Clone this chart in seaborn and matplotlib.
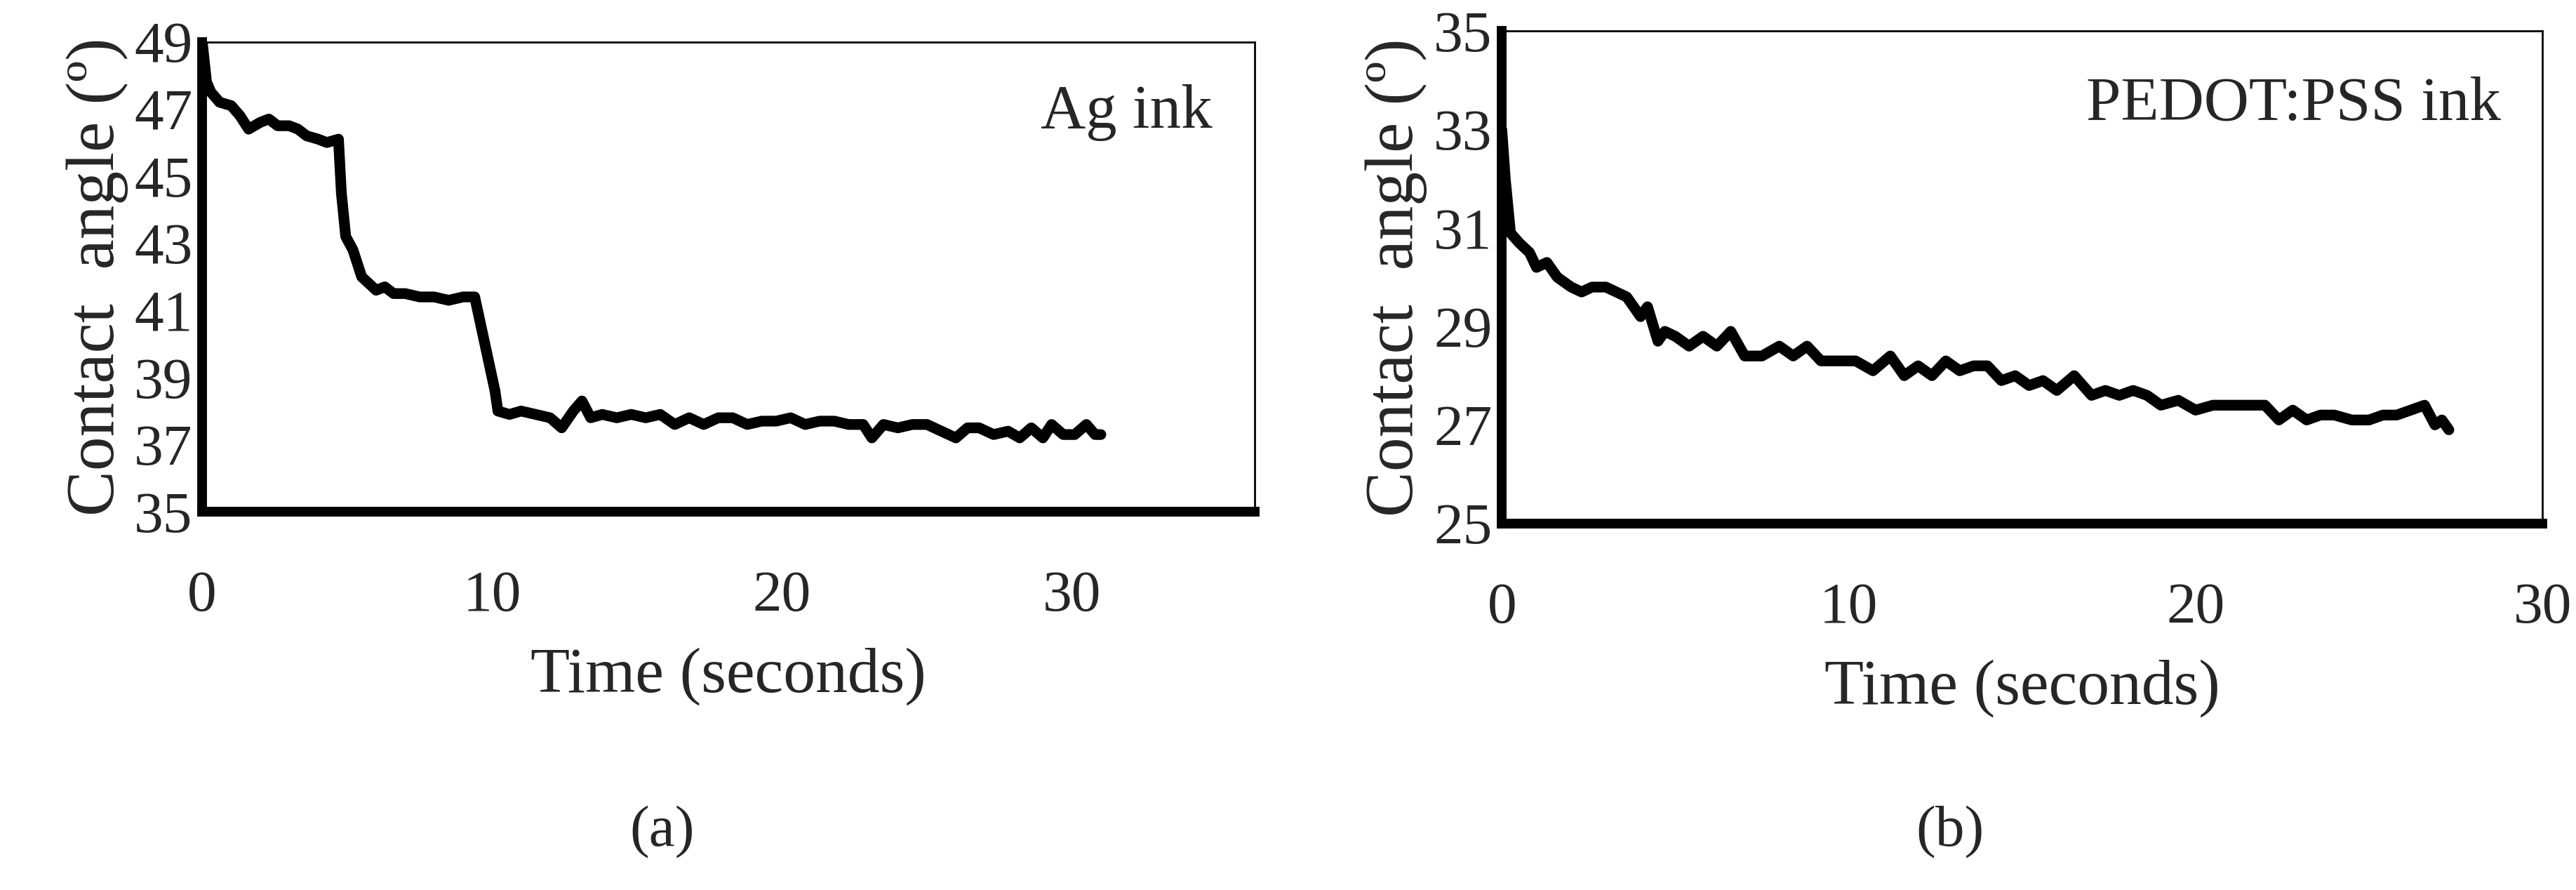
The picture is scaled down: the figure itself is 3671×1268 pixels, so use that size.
import matplotlib
matplotlib.use("Agg")
import matplotlib.pyplot as plt
import seaborn as sns
import pandas as pd

ag_time = [0.0, 0.15, 0.3, 0.6, 1.0, 1.3, 1.6, 2.0, 2.3, 2.6, 3.0, 3.3, 3.6, 4.0, 4.3, 4.7, 4.8, 4.95, 5.2, 5.5, 6.0, 6.3, 6.6, 7.0, 7.5, 8.0, 8.5, 9.0, 9.4, 9.6, 9.9, 10.1, 10.2, 10.6, 11.0, 11.5, 12.0, 12.4, 12.8, 13.1, 13.4, 13.8, 14.3, 14.8, 15.3, 15.8, 16.3, 16.8, 17.3, 17.8, 18.3, 18.8, 19.3, 19.8, 20.3, 20.8, 21.3, 21.8, 22.3, 22.8, 23.1, 23.5, 24.0, 24.5, 25.0, 25.5, 26.0, 26.4, 26.8, 27.3, 27.8, 28.2, 28.6, 29.0, 29.3, 29.7, 30.1, 30.5, 30.8, 31.0]
ag_angle = [49.0, 47.8, 47.5, 47.2, 47.1, 46.8, 46.4, 46.6, 46.7, 46.5, 46.5, 46.4, 46.2, 46.1, 46.0, 46.1, 44.5, 43.2, 42.8, 42.0, 41.6, 41.7, 41.5, 41.5, 41.4, 41.4, 41.3, 41.4, 41.4, 40.6, 39.4, 38.6, 38.0, 37.9, 38.0, 37.9, 37.8, 37.5, 38.0, 38.3, 37.8, 37.9, 37.8, 37.9, 37.8, 37.9, 37.6, 37.8, 37.6, 37.8, 37.8, 37.6, 37.7, 37.7, 37.8, 37.6, 37.7, 37.7, 37.6, 37.6, 37.2, 37.6, 37.5, 37.6, 37.6, 37.4, 37.2, 37.5, 37.5, 37.3, 37.4, 37.2, 37.5, 37.2, 37.6, 37.3, 37.3, 37.6, 37.3, 37.3]

pd_time = [0.0, 0.1, 0.25, 0.5, 0.8, 1.0, 1.3, 1.6, 2.0, 2.3, 2.6, 3.0, 3.3, 3.6, 4.0, 4.2, 4.5, 4.7, 5.0, 5.4, 5.8, 6.2, 6.6, 7.0, 7.5, 8.0, 8.4, 8.8, 9.2, 9.7, 10.2, 10.7, 11.2, 11.6, 12.0, 12.4, 12.8, 13.2, 13.6, 14.0, 14.4, 14.8, 15.2, 15.6, 16.0, 16.5, 17.0, 17.4, 17.8, 18.2, 18.6, 19.0, 19.5, 20.0, 20.5, 21.0, 21.5, 22.0, 22.4, 22.8, 23.2, 23.6, 24.0, 24.5, 25.0, 25.4, 25.8, 26.2, 26.6, 26.9, 27.1, 27.3]
pd_angle = [33.0, 32.0, 30.9, 30.7, 30.5, 30.2, 30.3, 30.0, 29.8, 29.7, 29.8, 29.8, 29.7, 29.6, 29.2, 29.4, 28.7, 28.9, 28.8, 28.6, 28.8, 28.6, 28.9, 28.4, 28.4, 28.6, 28.4, 28.6, 28.3, 28.3, 28.3, 28.1, 28.4, 28.0, 28.2, 28.0, 28.3, 28.1, 28.2, 28.2, 27.9, 28.0, 27.8, 27.9, 27.7, 28.0, 27.6, 27.7, 27.6, 27.7, 27.6, 27.4, 27.5, 27.3, 27.4, 27.4, 27.4, 27.4, 27.1, 27.3, 27.1, 27.2, 27.2, 27.1, 27.1, 27.2, 27.2, 27.3, 27.4, 27.0, 27.1, 26.9]

sns.set_theme(style="white")
plt.rcParams['font.family'] = ['Liberation Serif', 'DejaVu Serif']

fig = plt.figure(figsize=(36.71, 12.68), dpi=100)
axA = fig.add_axes([0.0785, 0.425, 0.4085, 0.528])
axB = fig.add_axes([0.583, 0.412, 0.404, 0.553])

panels = [
    (axA, ag_time, ag_angle, (0, 36.3), [0, 10, 20, 30], (35, 49), list(range(35, 50, 2)), "Ag ink"),
    (axB, pd_time, pd_angle, (0, 30), [0, 10, 20, 30], (25, 35), list(range(25, 36, 2)), "PEDOT:PSS ink"),
]
for ax, t, a, xl, xt, yl, yt, lab in panels:
    df = pd.DataFrame({"t": t, "a": a})
    sns.lineplot(data=df, x="t", y="a", sort=False, color="black", linewidth=11, ax=ax)
    ax.set_xlim(*xl)
    ax.set_ylim(*yl)
    ax.set_xticks(xt)
    ax.set_yticks(yt)
    ax.tick_params(labelsize=60, length=0, pad=10)
    ax.tick_params(axis='x', pad=60)
    ax.set_xlabel("Time (seconds)", fontsize=66, labelpad=25)
    ax.set_ylabel("Contact  angle (º)", fontsize=70, labelpad=6)
    for s in ["left", "bottom"]:
        ax.spines[s].set_linewidth(10)
        ax.spines[s].set_color("black")
    for s in ["top", "right"]:
        ax.spines[s].set_linewidth(2)
        ax.spines[s].set_color("black")
    ax.text(0.96, 0.85, lab, transform=ax.transAxes, ha="right", va="center", fontsize=64)

fig.text(0.257, 0.065, "(a)", ha="center", va="center", fontsize=60, family=['Liberation Serif'])
fig.text(0.757, 0.065, "(b)", ha="center", va="center", fontsize=60, family=['Liberation Serif'])

fig.savefig("out.png", dpi=100)
